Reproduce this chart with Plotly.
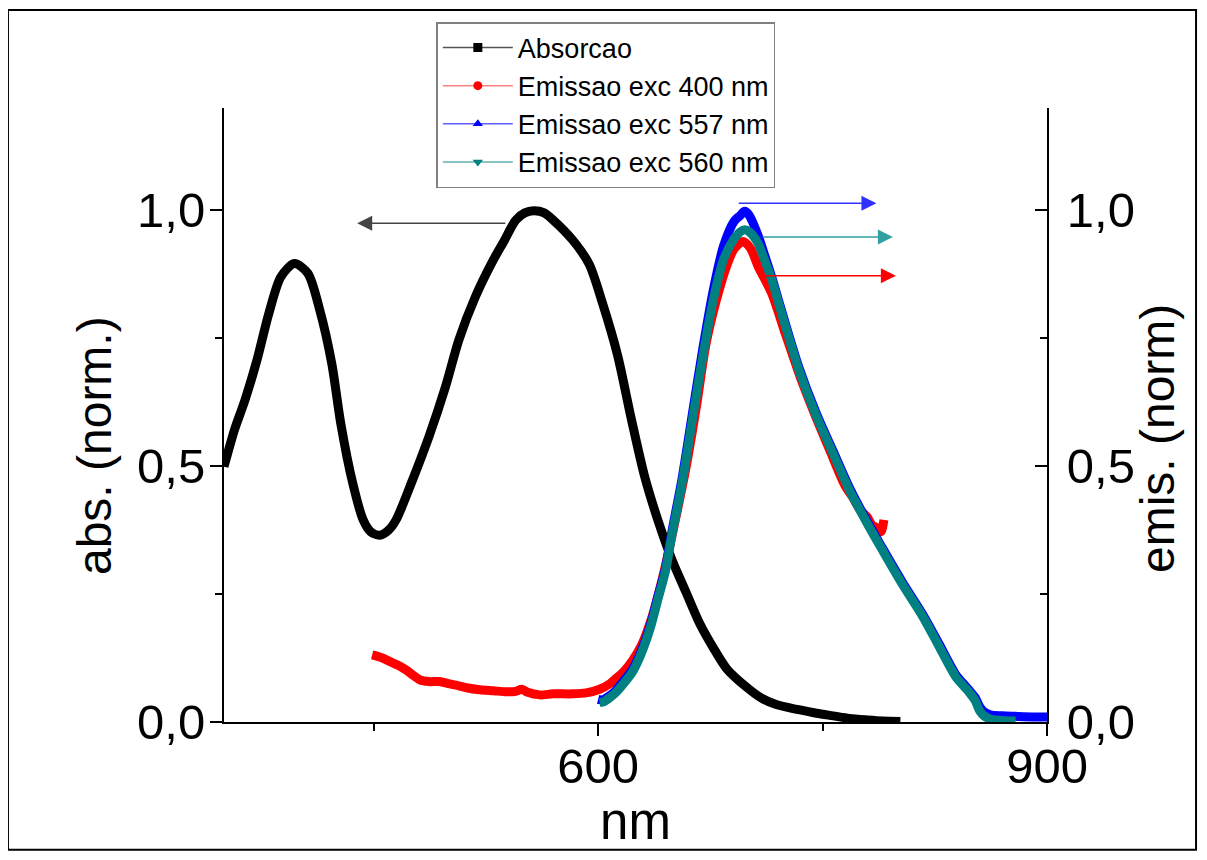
import plotly.graph_objects as go

# ---- data ----
abs_x = [350, 357, 364, 372, 380, 388, 397, 406, 414, 422, 428, 436, 443, 448, 454, 460, 465, 476, 487, 498,
         507, 518, 530, 537, 545, 551, 557, 564, 570, 583, 594, 603, 613, 622, 631, 640, 649, 659, 668, 677,
         686, 698, 709, 719, 734, 746, 757, 768, 780, 790, 802]
abs_y = [0.499, 0.571, 0.629, 0.707, 0.799, 0.870, 0.896, 0.877, 0.805, 0.701, 0.584, 0.467, 0.395, 0.372, 0.365,
         0.375, 0.395, 0.473, 0.558, 0.655, 0.747, 0.831, 0.903, 0.939, 0.981, 0.995, 0.999, 0.995, 0.981, 0.942,
         0.895, 0.818, 0.717, 0.595, 0.481, 0.394, 0.320, 0.252, 0.192, 0.145, 0.104, 0.071, 0.047, 0.034, 0.024,
         0.017, 0.012, 0.007, 0.004, 0.002, 0.001]

em400_x = [449, 455, 461, 467, 472, 477, 481, 487, 494, 500, 505, 512, 521, 530, 539, 545, 549, 553, 561, 570,
           583, 592, 601, 608, 612, 617, 623, 629, 636, 644, 652, 659, 666, 672, 679, 686, 691, 697, 702, 707,
           716, 725, 735, 745, 755, 765, 770, 775, 780, 783, 786, 789, 791]
em400_y = [0.131, 0.126, 0.118, 0.110, 0.101, 0.090, 0.082, 0.079, 0.079, 0.075, 0.072, 0.067, 0.063, 0.061, 0.059,
           0.060, 0.064, 0.058, 0.053, 0.055, 0.055, 0.057, 0.064, 0.075, 0.085, 0.098, 0.120, 0.150, 0.205, 0.293,
           0.400, 0.501, 0.622, 0.737, 0.824, 0.892, 0.925, 0.939, 0.925, 0.890, 0.838, 0.760, 0.675, 0.600, 0.530,
           0.462, 0.440, 0.415, 0.400, 0.385, 0.380, 0.372, 0.395]

em557_x = [600, 603, 608, 612, 617, 623, 629, 635, 640, 645, 649, 656, 663, 670, 677, 684, 691, 695, 698, 701,
           707, 711, 716, 722, 734, 746, 757, 768, 781, 790, 803, 817, 828, 839, 845, 848, 852, 855, 858, 862,
           870, 879, 890, 900]
em557_y = [0.044, 0.043, 0.052, 0.062, 0.080, 0.103, 0.140, 0.190, 0.246, 0.300, 0.367, 0.474, 0.602, 0.730, 0.844,
           0.932, 0.979, 0.990, 0.998, 0.990, 0.950, 0.915, 0.870, 0.810, 0.695, 0.602, 0.530, 0.458, 0.386, 0.340,
           0.275, 0.210, 0.152, 0.093, 0.072, 0.062, 0.048, 0.030, 0.020, 0.014, 0.012, 0.011, 0.010, 0.010]

em560_x = [601, 604, 608, 612, 617, 623, 629, 635, 640, 645, 649, 656, 663, 670, 677, 684, 691, 695, 698, 701,
           707, 711, 716, 722, 734, 746, 757, 768, 781, 790, 803, 817, 828, 839, 845, 848, 852, 855, 858, 862,
           870, 879]
em560_y = [0.038, 0.040, 0.048, 0.058, 0.075, 0.098, 0.135, 0.185, 0.240, 0.295, 0.360, 0.465, 0.590, 0.715, 0.825,
           0.905, 0.945, 0.958, 0.962, 0.958, 0.935, 0.905, 0.865, 0.805, 0.690, 0.597, 0.525, 0.453, 0.382, 0.336,
           0.271, 0.206, 0.147, 0.0885, 0.068, 0.058, 0.042, 0.022, 0.012, 0.006, 0.003, 0.002]

series_names = ["Absorcao", "Emissao exc 400 nm", "Emissao exc 557 nm", "Emissao exc 560 nm"]
series_colors = ["#000000", "#ff0000", "#0000ff", "#008080"]
legend_line_colors = ["#555555", "#ff8080", "#6060ff", "#60b0b0"]
series_symbols = ["square", "circle", "triangle-up", "triangle-down"]

x_title = "nm"
y_title = "abs. (norm.)"
y2_title = "emis. (norm)"

# arrows: (tail_x, tip_x, y, axis, color)
arrows = [
    (539, 439, 0.975, "y", "#444444"),
    (693, 786, 1.014, "y2", "#3030ff"),
    (709, 797, 0.948, "y2", "#30a0a0"),
    (711, 799, 0.872, "y2", "#ff0000"),
]

FONT = "Liberation Sans, Arial, sans-serif"

fig = go.Figure()

data = [(abs_x, abs_y, "y"), (em400_x, em400_y, "y2"), (em557_x, em557_y, "y2"), (em560_x, em560_y, "y2")]
for (xs, ys, ax), name, col in zip(data, series_names, series_colors):
    fig.add_trace(go.Scatter(x=xs, y=ys, yaxis=ax, mode="lines", name=name,
                             line=dict(color=col, width=9, shape="spline", smoothing=0.8),
                             showlegend=False, hoverinfo="skip"))

# legend-only entries
for name, col, lcol, sym in zip(series_names, series_colors, legend_line_colors, series_symbols):
    fig.add_trace(go.Scatter(x=[None], y=[None], mode="lines+markers", name=name,
                             line=dict(color=lcol, width=1.5),
                             marker=dict(color=col, symbol=sym, size=9)))

for tail, tip, yv, ax, col in arrows:
    fig.add_annotation(x=tip, y=yv, ax=tail, ay=yv, xref="x", yref=ax, axref="x", ayref=ax,
                       text="", showarrow=True, arrowhead=2, arrowsize=2.0, arrowwidth=1.5,
                       arrowcolor=col)

# y-axis titles placed as rotated text
fig.add_annotation(text=y_title, xref="paper", yref="paper", x=-0.158, y=0.451,
                   xanchor="center", yanchor="middle", textangle=-90, showarrow=False,
                   font=dict(family=FONT, size=48, color="black"))
fig.add_annotation(text=y2_title, xref="paper", yref="paper", x=1.135, y=0.461,
                   xanchor="center", yanchor="middle", textangle=-90, showarrow=False,
                   font=dict(family=FONT, size=48, color="black"))

axis_common = dict(showline=True, linecolor="black", linewidth=2, showgrid=False, zeroline=False,
                   tickwidth=2, tickcolor="black", ticklen=12,
                   tickfont=dict(family=FONT, size=49, color="black"))

# page body has an 8px margin: figure is drawn from (8, 8); keep it inside the 1207x860 window
fig.update_layout(
    width=1191, height=844,
    margin=dict(l=216, r=152, t=100, b=130),
    paper_bgcolor="white", plot_bgcolor="white",
    separators=",.",
    font=dict(family=FONT, color="black"),
    xaxis=dict(range=[350, 900], tick0=0, dtick=300, ticks="outside", ticklabelstandoff=-12,
               minor=dict(dtick=150, ticks="outside", ticklen=7, tickwidth=2, tickcolor="black"),
               title=dict(text=x_title, font=dict(family=FONT, size=51), standoff=2),
               **axis_common),
    yaxis=dict(range=[0, 1.2], tick0=0, dtick=0.5, tickformat=".1f", ticks="outside", ticklabelstandoff=-5,
               minor=dict(dtick=0.25, ticks="outside", ticklen=7, tickwidth=2, tickcolor="black"),
               **axis_common),
    yaxis2=dict(range=[0, 1.2], tick0=0, dtick=0.5, tickformat=".1f", ticks="inside", ticklabelstandoff=8,
                overlaying="y", side="right",
                minor=dict(dtick=0.25, ticks="inside", ticklen=7, tickwidth=2, tickcolor="black"),
                **axis_common),
    legend=dict(x=0.258, y=1.14, xanchor="left", yanchor="top",
                bordercolor="#808080", borderwidth=1.5, bgcolor="white",
                font=dict(family=FONT, size=27, color="black"),
                itemwidth=70, tracegroupgap=0),
    shapes=[dict(type="rect", xref="paper", yref="paper",
                 x0=-0.2625, x1=1.1811, y0=-0.208, y1=1.1596,
                 line=dict(color="black", width=2), fillcolor="rgba(0,0,0,0)", layer="below")],
)

fig.write_html("out.html")
